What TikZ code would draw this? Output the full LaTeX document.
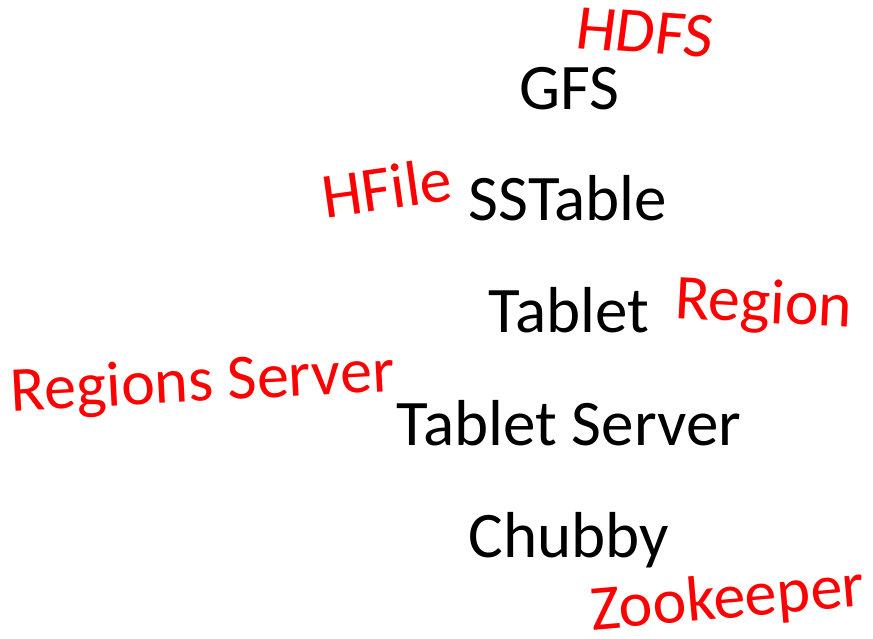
\documentclass[tikz,border=0pt]{standalone}
\usepackage{fontspec}
\setmainfont{Carlito}
\begin{document}
\begin{tikzpicture}[x=1pt,y=-1pt,
  every node/.style={inner sep=0pt, outer sep=0pt},
  google/.style={anchor=base, text=black, font=\fontsize{65}{78}\selectfont},
  hbase/.style={anchor=base west, text=red, font=\fontsize{64}{77}\selectfont}]
  \useasboundingbox[fill=white] (0,0) rectangle (873,638);

  % Google system names, stacked in one column
  \node[google] (gfs)     at (569,109) {GFS};
  \node[google] (sstable) at (568,220) {SSTable};
  \node[google] (tablet)  at (569,332) {Tablet};
  \node[google] (tserver) at (569,445) {Tablet Server};
  \node[google] (chubby)  at (569,557) {Chubby};

  % HBase / Hadoop counterparts, set at a tilt
  \node[hbase, rotate=-4, xslant=0.06] (hdfs)    at (574,48)  {HDFS};
  \node[hbase, rotate=8]               (hfile)   at (325,218) {HFile};
  \node[hbase, rotate=-3]              (region)  at (674,318) {Region};
  \node[hbase, rotate=3]               (rserver) at (12,411)  {Regions Server};
  \node[hbase, rotate=5]               (zk)      at (592,630) {Zookeeper};
\end{tikzpicture}
\end{document}
